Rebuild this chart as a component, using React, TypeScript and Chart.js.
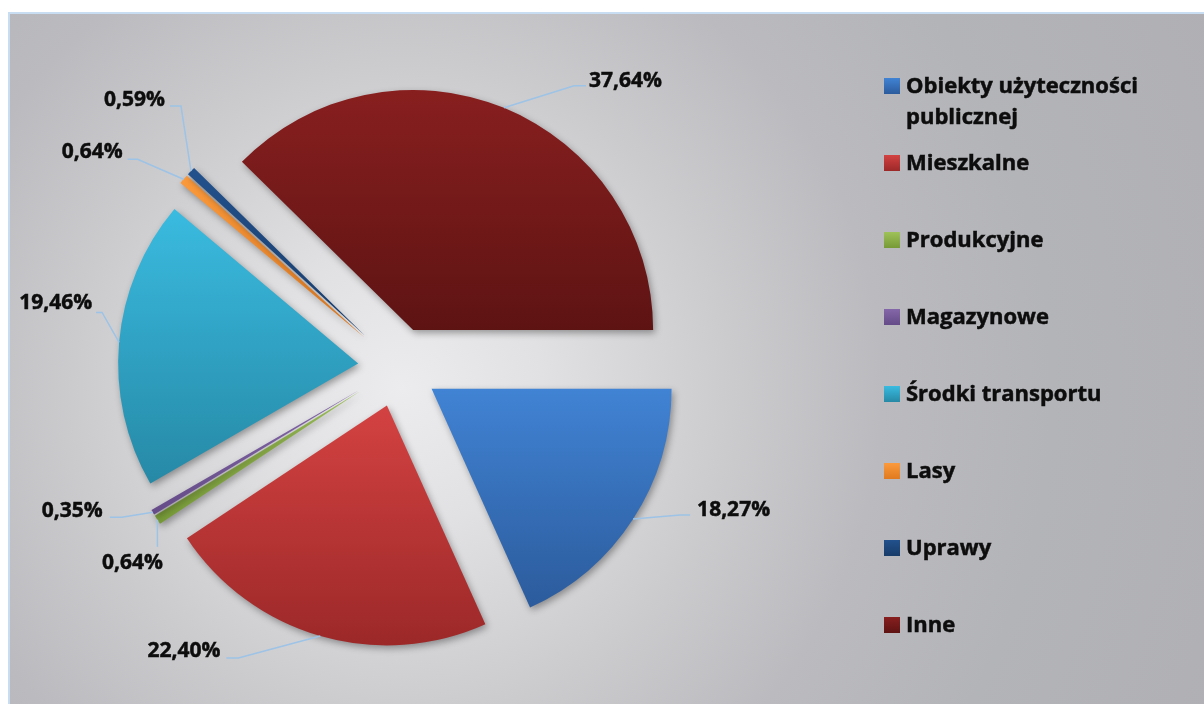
import React, { useEffect, useRef } from 'react';
import { Chart, registerables } from 'chart.js';

Chart.register(...registerables);

// ---- data ----
const CATEGORIES = [
  'Obiekty użyteczności publicznej',
  'Mieszkalne',
  'Produkcyjne',
  'Magazynowe',
  'Środki transportu',
  'Lasy',
  'Uprawy',
  'Inne',
];
const VALUES = [18.27, 22.4, 0.64, 0.35, 19.46, 0.64, 0.59, 37.64];

// ---- styles ----
const COLOR_TOP = ['#4183d4', '#d44242', '#9fc25a', '#8467a8', '#3abbe0', '#fb9a3c', '#22518c', '#881f1f'];
const COLOR_BOTTOM = ['#2b5b9c', '#9c2828', '#779a37', '#654b88', '#2689a6', '#e07a20', '#183c6a', '#5e1313'];
const EXPLODE = [40, 40, 45, 45, 40, 45, 45, 40];
const RADIUS = 240;
const LABEL_FONT = 'bold 21px "Open Sans", "DejaVu Sans", sans-serif';
const LEGEND_FONT = 'bold 22px "Open Sans", "DejaVu Sans", sans-serif';
const LEADER_COLOR = '#9dc3e6';
const TEXT_COLOR = '#0d0d0d';

// label leader layout: elbow offset from anchor, horizontal tail, text offset from tail end, alignment
const LABEL_ELBOW: [number, number][] = [
  [47, -4], [-82, 22], [0, 27], [-31, 5], [-17, -30], [-46, -20], [-10, -65], [70, -22],
];
const LABEL_TAIL = [10, -12, 0, -12, -6, -10, -11, 12];
const LABEL_TEXT_OFF: [number, number][] = [
  [7, -5], [-6, -7], [-25, 16], [-7, -6], [-4, -9], [-5, -7], [-5, -6], [3, -5],
];
const LABEL_ALIGN: CanvasTextAlign[] = ['left', 'right', 'center', 'right', 'right', 'right', 'right', 'left'];

const fmt = (v: number) => v.toFixed(2).replace('.', ',') + '%';

function heavyText(ctx: CanvasRenderingContext2D, text: string, x: number, y: number) {
  ctx.fillText(text, x, y);
  ctx.lineWidth = 0.5;
  ctx.strokeStyle = TEXT_COLOR;
  ctx.strokeText(text, x, y);
}

function sliceGradient(chart: any, i: number) {
  const area = chart.chartArea;
  if (!area || i === undefined || i < 0) return COLOR_TOP[0];
  const cx = (area.left + area.right) / 2;
  const cy = (area.top + area.bottom) / 2;
  const total = VALUES.reduce((a, b) => a + b, 0);
  let cum = 0;
  for (let j = 0; j < i; j++) cum += VALUES[j];
  const a0 = (cum / total) * Math.PI * 2;
  const a1 = ((cum + VALUES[i]) / total) * Math.PI * 2;
  const mid = (a0 + a1) / 2;
  const oy = cy + Math.sin(mid) * EXPLODE[i];
  let minY = oy;
  let maxY = oy;
  for (let k = 0; k <= 30; k++) {
    const a = a0 + ((a1 - a0) * k) / 30;
    const y = oy + Math.sin(a) * RADIUS;
    minY = Math.min(minY, y);
    maxY = Math.max(maxY, y);
  }
  if (maxY - minY < 1) maxY = minY + 1;
  const g = chart.ctx.createLinearGradient(0, minY, 0, maxY);
  g.addColorStop(0, COLOR_TOP[i]);
  g.addColorStop(1, COLOR_BOTTOM[i]);
  return g;
}

const explodePlugin = {
  id: 'explodeSlices',
  afterDatasetsUpdate(chart: any) {
    const meta = chart.getDatasetMeta(0);
    meta.data.forEach((arc: any, i: number) => {
      const mid = (arc.startAngle + arc.endAngle) / 2;
      arc.x += Math.cos(mid) * EXPLODE[i];
      arc.y += Math.sin(mid) * EXPLODE[i];
    });
  },
};

const shadowPlugin = {
  id: 'sliceShadow',
  beforeDatasetsDraw(chart: any) {
    const ctx = chart.ctx;
    ctx.save();
    ctx.shadowColor = 'rgba(0,0,0,0.35)';
    ctx.shadowBlur = 7;
    ctx.shadowOffsetX = 2;
    ctx.shadowOffsetY = 3;
  },
  afterDatasetsDraw(chart: any) {
    chart.ctx.restore();
  },
};

const labelPlugin = {
  id: 'leaderLabels',
  afterDraw(chart: any) {
    const ctx = chart.ctx;
    const meta = chart.getDatasetMeta(0);
    ctx.save();
    meta.data.forEach((arc: any, i: number) => {
      const mid = (arc.startAngle + arc.endAngle) / 2;
      const ax = arc.x + Math.cos(mid) * arc.outerRadius;
      const ay = arc.y + Math.sin(mid) * arc.outerRadius;
      const ex = ax + LABEL_ELBOW[i][0];
      const ey = ay + LABEL_ELBOW[i][1];
      const tx = ex + LABEL_TAIL[i];
      ctx.strokeStyle = LEADER_COLOR;
      ctx.lineWidth = 1.5;
      ctx.beginPath();
      ctx.moveTo(ax, ay);
      ctx.lineTo(ex, ey);
      ctx.lineTo(tx, ey);
      ctx.stroke();
      ctx.fillStyle = TEXT_COLOR;
      ctx.font = LABEL_FONT;
      ctx.textAlign = LABEL_ALIGN[i];
      ctx.textBaseline = 'middle';
      heavyText(ctx, fmt(VALUES[i]), tx + LABEL_TEXT_OFF[i][0], ey + LABEL_TEXT_OFF[i][1]);
    });
    ctx.restore();
  },
};

const legendPlugin = {
  id: 'sideLegend',
  afterDraw(chart: any) {
    const ctx = chart.ctx;
    const boxX = 884;
    const textX = 906;
    const firstBaseline = 93;
    const rowGap = 77;
    const lineH = 31;
    const maxW = 250;
    ctx.save();
    ctx.font = LEGEND_FONT;
    ctx.textAlign = 'left';
    ctx.textBaseline = 'alphabetic';
    CATEGORIES.forEach((name, i) => {
      const base = firstBaseline + i * rowGap;
      const g = ctx.createLinearGradient(0, base - 15, 0, base + 1);
      g.addColorStop(0, COLOR_TOP[i]);
      g.addColorStop(1, COLOR_BOTTOM[i]);
      ctx.fillStyle = g;
      ctx.fillRect(boxX, base - 15, 16, 16);
      const words = name.split(' ');
      const lines: string[] = [];
      let cur = '';
      words.forEach((w) => {
        const test = cur ? cur + ' ' + w : w;
        if (ctx.measureText(test).width > maxW && cur) {
          lines.push(cur);
          cur = w;
        } else cur = test;
      });
      if (cur) lines.push(cur);
      ctx.fillStyle = TEXT_COLOR;
      lines.forEach((ln, k) => heavyText(ctx, ln, textX, base + k * lineH));
    });
    ctx.restore();
  },
};

export default function App() {
  const ref = useRef<HTMLCanvasElement>(null);
  useEffect(() => {
    if (!ref.current) return;
    const chart = new Chart(ref.current, {
      type: 'pie',
      data: {
        labels: CATEGORIES,
        datasets: [
          {
            data: VALUES,
            backgroundColor: (c: any) => sliceGradient(c.chart, c.dataIndex),
            borderWidth: 0,
            radius: RADIUS,
            rotation: 90,
          } as any,
        ],
      },
      options: {
        responsive: false,
        devicePixelRatio: 1,
        animation: false,
        layout: { padding: { left: 98, top: 67, right: 506, bottom: 37 } },
        plugins: {
          legend: { display: false },
          tooltip: { enabled: false },
        },
        events: [],
      } as any,
      plugins: [explodePlugin, shadowPlugin, labelPlugin, legendPlugin],
    });
    return () => chart.destroy();
  }, []);

  return (
    <div style={{ position: 'absolute', left: 0, top: 0, width: 1204, height: 704, overflow: 'hidden', background: '#fff' }}>
      <div
        style={{
          position: 'absolute',
          left: 8,
          top: 12,
          width: 1220,
          height: 720,
          borderLeft: '2px solid #c8ddf1',
          borderTop: '2px solid #c8ddf1',
          background:
            'radial-gradient(circle at 392px 375px, #ececee 0px, #e1e1e3 140px, #cbcbce 330px, #bbbbbf 480px, #b3b4b8 650px, #b0b0b4 900px)',
        }}
      />
      <canvas ref={ref} width={1204} height={704} style={{ position: 'absolute', left: 0, top: 0 }} />
    </div>
  );
}
